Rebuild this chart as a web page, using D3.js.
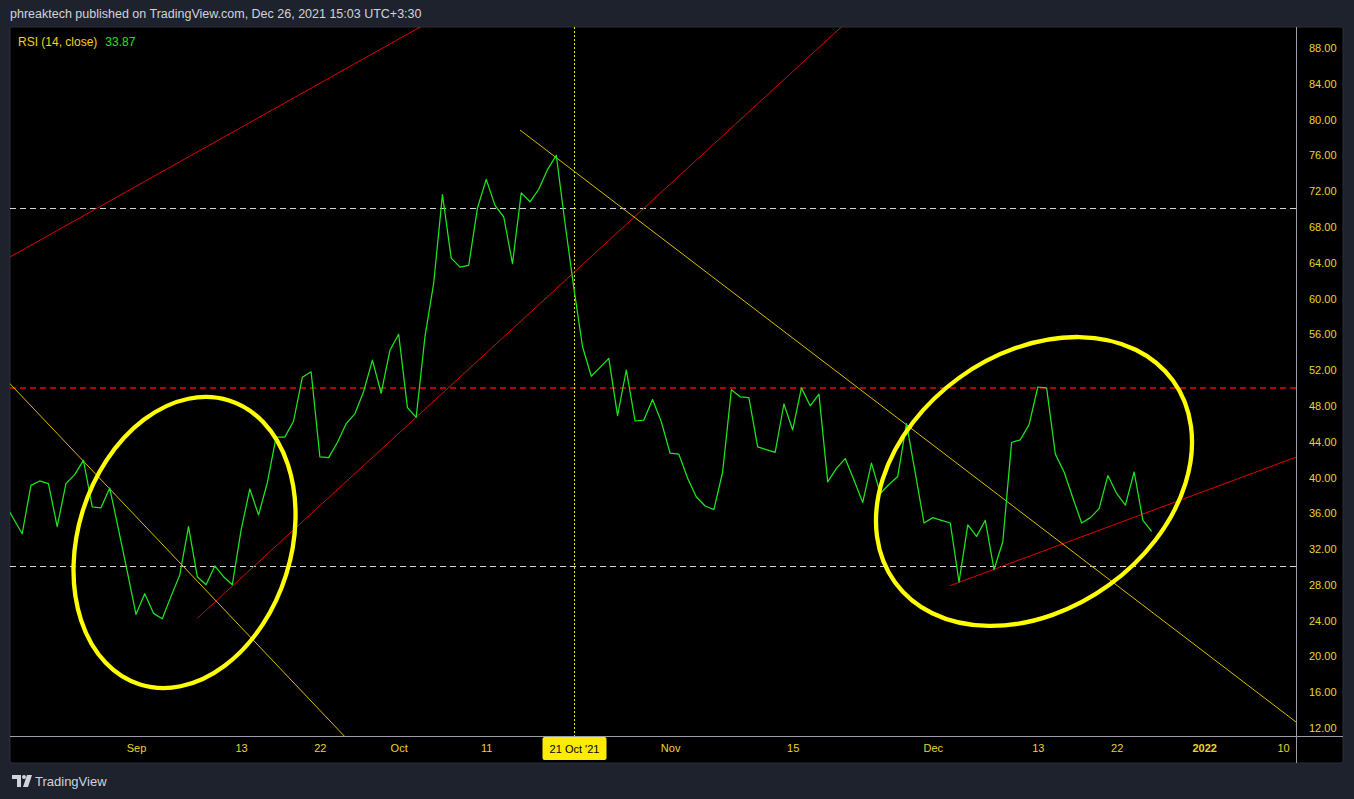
<!DOCTYPE html>
<html>
<head>
<meta charset="utf-8">
<script src="https://cdn.jsdelivr.net/npm/d3@7"></script>
<style>
html,body{margin:0;padding:0;background:#1e222d;overflow:hidden;}
svg{display:block;}
text{font-family:"Liberation Sans","Noto Sans",Arial,sans-serif;}
</style>
</head>
<body>
<svg id="chart" width="1354" height="799"></svg>
<script>
// ---------------- DATA ----------------
const seriesStart = "2021-08-17"; // first daily RSI value
const rsiValues = [
  37.0,35.3,33.6,39.0,39.5,39.2,34.4,39.2,40.2,41.8,36.6,36.5,38.7,34.1,29.4,
  24.6,26.9,24.7,24.1,26.6,29.0,34.4,28.8,27.9,30.0,28.8,27.9,34.0,38.6,35.7,
  39.3,44.4,44.4,46.2,51.1,51.7,42.2,42.1,43.8,45.9,47.0,49.5,53.0,49.3,54.1,
  55.9,47.7,46.6,55.6,61.6,71.5,64.4,63.4,63.6,70.0,73.2,70.3,69.0,63.8,71.7,
  70.7,72.1,74.3,75.9,68.3,61.1,54.5,51.2,52.2,53.2,46.8,51.9,46.2,46.3,48.6,
  46.1,42.6,42.5,39.8,37.7,36.7,36.3,40.5,49.7,48.9,48.8,43.3,43.0,42.7,48.1,
  45.2,49.9,47.9,49.2,39.4,40.9,42.0,39.6,37.1,41.5,38.1,39.1,40.0,45.9,40.4,
  34.8,35.4,35.1,34.8,28.2,34.6,33.3,35.1,29.6,32.7,43.8,44.1,45.8,50.0,49.9,
  42.5,40.5,37.6,34.8,35.4,36.4,40.1,38.1,36.8,40.5,35.1,33.87
];
const yTicks = [12,16,20,24,28,32,36,40,44,48,52,56,60,64,68,72,76,80,84,88];
const xTickDates = ["2021-09-01","2021-09-13","2021-09-22","2021-10-01","2021-10-11","2021-11-01","2021-11-15","2021-12-01","2021-12-13","2021-12-22","2022-01-01","2022-01-10"];
const xTickLabels = ["Sep","13","22","Oct","11","Nov","15","Dec","13","22","2022","10"];
const crosshairDate = "2021-10-21";
const crosshairLabel = "21 Oct '21";
const bandLevels = [70, 30];   // white dashed
const middleLevel = [50];      // red dashed
// trend lines: start/end (date, value)
const trendStart = ["2021-08-16T00:00Z","2021-09-08T00:00Z","2021-12-02T23:00Z","2021-08-16T00:00Z","2021-10-14T20:40Z"];
const trendStartVal = [63.65, 24.15, 27.79, 52.02, 78.72];
const trendEnd = ["2021-10-04T00:00Z","2021-11-22T00:00Z","2022-01-13T00:00Z","2021-09-25T00:00Z","2022-01-13T00:00Z"];
const trendEndVal = [90.53, 91.54, 42.71, 10.77, 11.43];
const trendKinds = ["red","red","red","yellow","yellow"];
// ellipse annotations (centers)
const ellipseCenter = ["2021-09-06T13:00Z","2021-12-12T13:30Z"];
const ellipseCenterVal = [32.62, 39.44];
const titleText = "RSI (14, close)";
const lastValueText = "33.87";
const headerText = "phreaktech published on TradingView.com, Dec 26, 2021 15:03 UTC+3:30";

// ---------------- LAYOUT ----------------
const W = 1354, H = 799;
const panel = {x:10, y:27, r:1343, b:763};
const plot = {x:10, y:27, r:1296, b:736};
const svg = d3.select("#chart");

const x = d3.scaleUtc()
  .domain([new Date("2021-09-01T00:00Z"), new Date("2022-01-10T00:00Z")])
  .range([136, 1283]);
const y = d3.scaleLinear().domain([12, 88]).range([727, 47]);

const C = {
  frame:"#1e222d", bg:"#000000", border:"#2a2e39", axisLine:"#9b9ea6",
  text:"#d1d4dc", axisText:"#e9d62b", title:"#f0d40c", green:"#1ee61e",
  red:"#e00000", redDash:"#e00a0a", whiteDash:"#d4d4d4",
  yellowLine:"#d9bc00", ellipse:"#ffff00", cross:"#ffeb00"
};

svg.append("rect").attr("width",W).attr("height",H).attr("fill",C.frame);
svg.append("rect").attr("x",panel.x).attr("y",panel.y)
  .attr("width",panel.r-panel.x).attr("height",panel.b-panel.y)
  .attr("rx",2).attr("fill",C.bg).attr("stroke",C.border).attr("stroke-width",1);

// header
svg.append("text").attr("x",10).attr("y",18).attr("fill",C.text)
  .attr("font-size",12.5).text(headerText);

// clip
svg.append("defs").append("clipPath").attr("id","plotclip")
  .append("rect").attr("x",plot.x).attr("y",plot.y)
  .attr("width",plot.r-plot.x).attr("height",plot.b-plot.y);
const g = svg.append("g").attr("clip-path","url(#plotclip)");

// level lines
g.selectAll("line.band").data(bandLevels).join("line")
  .attr("class","band")
  .attr("x1",plot.x).attr("x2",plot.r)
  .attr("y1",d=>Math.round(y(d))+0.5).attr("y2",d=>Math.round(y(d))+0.5)
  .style("stroke",C.whiteDash).style("stroke-width","1px").style("stroke-dasharray","6,4");
g.selectAll("line.mid").data(middleLevel).join("line")
  .attr("class","mid")
  .attr("x1",plot.x).attr("x2",plot.r)
  .attr("y1",d=>Math.round(y(d))+1).attr("y2",d=>Math.round(y(d))+1)
  .style("stroke",C.redDash).style("stroke-width","1.6px").style("stroke-dasharray","6,4");

// crosshair vertical
const cx = Math.round(x(new Date(crosshairDate+"T00:00Z")))+0.5;
g.append("line").attr("x1",cx).attr("x2",cx).attr("y1",plot.y).attr("y2",plot.b)
  .attr("stroke",C.cross).attr("stroke-width",1).attr("stroke-dasharray","2,2");

// trend lines
g.selectAll("line.trend").data(trendStart).join("line")
  .attr("class","trend")
  .attr("x1",(d,i)=>x(new Date(trendStart[i])))
  .attr("y1",(d,i)=>y(trendStartVal[i]))
  .attr("x2",(d,i)=>x(new Date(trendEnd[i])))
  .attr("y2",(d,i)=>y(trendEndVal[i]))
  .attr("stroke",(d,i)=>trendKinds[i]==="red"?C.red:C.yellowLine)
  .attr("stroke-width",1);

// RSI line
const t0 = new Date(seriesStart+"T00:00Z");
const pts = rsiValues.map((v,i)=>[d3.utcDay.offset(t0,i), v]);
g.append("path").datum(pts)
  .attr("fill","none").attr("stroke",C.green).attr("stroke-width",1.25)
  .attr("stroke-linejoin","round")
  .attr("d", d3.line().x(d=>x(d[0])).y(d=>y(d[1])));

// ellipses
const ellipseShape = [{rx:106.6, ry:148.8, rot:17.4},{rx:171.7, ry:127.9, rot:-35.9}];
g.selectAll("ellipse").data(ellipseCenter).join("ellipse")
  .attr("cx",0).attr("cy",0)
  .attr("rx",(d,i)=>ellipseShape[i].rx).attr("ry",(d,i)=>ellipseShape[i].ry)
  .attr("transform",(d,i)=>`translate(${x(new Date(d))},${y(ellipseCenterVal[i])}) rotate(${ellipseShape[i].rot})`)
  .attr("fill","none").attr("stroke",C.ellipse).attr("stroke-width",4.3);

// title
const title = svg.append("text").attr("x",18).attr("y",46).attr("font-size",12);
title.append("tspan").attr("fill",C.title).text(titleText);
title.append("tspan").attr("fill",C.green).attr("dx",8).text(lastValueText);

// axis separators
svg.append("line").attr("x1",plot.r+0.5).attr("x2",plot.r+0.5).attr("y1",panel.y).attr("y2",panel.b)
  .attr("stroke",C.axisLine).attr("stroke-width",1);
svg.append("line").attr("x1",panel.x).attr("x2",panel.r).attr("y1",plot.b+0.5).attr("y2",plot.b+0.5)
  .attr("stroke",C.axisLine).attr("stroke-width",1);

// y axis labels
const yAxis = d3.axisRight(y).tickValues(yTicks).tickSize(0).tickPadding(0)
  .tickFormat(d3.format(".2f"));
const ya = svg.append("g").attr("transform",`translate(${plot.r+13},1)`).call(yAxis);
ya.select(".domain").remove();
ya.selectAll("text").attr("fill",C.axisText).attr("font-size",11)
  .attr("font-family",'"Liberation Sans",Arial,sans-serif');

// x axis labels
const xAxis = d3.axisBottom(x).tickValues(xTickDates.map(s=>new Date(s+"T00:00Z")))
  .tickSize(0).tickPadding(0).tickFormat((d,i)=>xTickLabels[i]);
const xa = svg.append("g").attr("transform",`translate(0,${plot.b+8})`).call(xAxis);
xa.select(".domain").remove();
xa.selectAll("text").attr("fill",C.axisText).attr("font-size",11)
  .attr("font-family",'"Liberation Sans",Arial,sans-serif')
  .attr("font-weight",(d,i)=>xTickLabels[i]==="2022"?"bold":"normal");

// crosshair label
const lw = 64, lh = 23;
svg.append("rect").attr("x",cx-lw/2).attr("y",plot.b+1).attr("width",lw).attr("height",lh)
  .attr("rx",2).attr("fill",C.cross);
svg.append("text").attr("x",cx).attr("y",plot.b+17).attr("text-anchor","middle")
  .attr("font-size",11).attr("fill","#000").text(crosshairLabel);

// footer logo
const logo = svg.append("g").attr("fill",C.text);
logo.append("path").attr("d","M12,775 H21 V787 H17 V779 H12 Z");
logo.append("circle").attr("cx",24).attr("cy",777).attr("r",2);
logo.append("path").attr("d","M27,775 H32 L28,787 H23 Z");
svg.append("text").attr("x",35).attr("y",786).attr("fill",C.text)
  .attr("font-size",13).attr("font-weight",500).text("TradingView");
</script>
</body>
</html>
